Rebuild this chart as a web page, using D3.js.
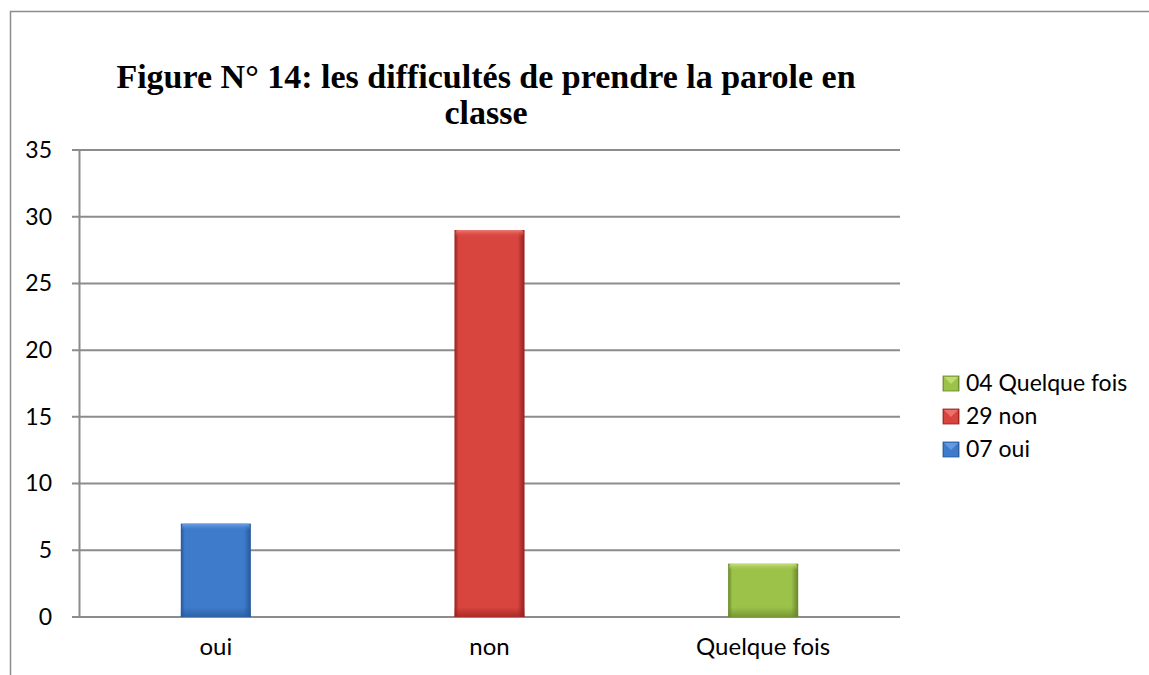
<!DOCTYPE html>
<html>
<head>
<meta charset="utf-8">
<script src="https://cdn.jsdelivr.net/npm/d3@7"></script>
<style>
  body { margin: 0; background: #fff; }
  text { font-family: Lato, "Open Sans", sans-serif; fill: #000; }
</style>
</head>
<body>
<svg id="chart" width="1149" height="675"></svg>
<script>
/* chart values */
var categories = ["oui", "non", "Quelque fois"];
var values = [7, 29, 4];
var legendLabels = ["07 oui", "29 non", "04 Quelque fois"];
var yTicks = [0, 5, 10, 15, 20, 25, 30, 35];
var titleLines = ["Figure N° 14: les difficultés de prendre la parole en", "classe"];

var colors = [
  {mid: "#3f7bcb", dark: "#285797", light: "#6fa3e6"},
  {mid: "#d8453f", dark: "#96201f", light: "#f07c76"},
  {mid: "#9dc24a", dark: "#66852a", light: "#c6e27f"}
];

var svg = d3.select("#chart");

/* outer frame (only left and top edges visible) */
svg.append("path")
    .attr("d", "M10.5,675 V11.5 H1149")
    .attr("fill", "none")
    .attr("stroke", "#8c8c8c")
    .attr("stroke-width", 1.5);

/* gradients for the bevelled bars */
var defs = svg.append("defs");
colors.forEach(function(c, i) {
  var g = defs.append("linearGradient").attr("id", "bar" + i)
      .attr("x1", 0).attr("x2", 1).attr("y1", 0).attr("y2", 0);
  g.append("stop").attr("offset", "0%").attr("stop-color", c.dark);
  g.append("stop").attr("offset", "6%").attr("stop-color", c.mid);
  g.append("stop").attr("offset", "90%").attr("stop-color", c.mid);
  g.append("stop").attr("offset", "100%").attr("stop-color", c.dark);
  var v = defs.append("linearGradient").attr("id", "top" + i)
      .attr("x1", 0).attr("x2", 0).attr("y1", 0).attr("y2", 1);
  v.append("stop").attr("offset", "0%").attr("stop-color", c.light);
  v.append("stop").attr("offset", "100%").attr("stop-color", c.mid).attr("stop-opacity", 0);
  var b = defs.append("linearGradient").attr("id", "bot" + i)
      .attr("x1", 0).attr("x2", 0).attr("y1", 0).attr("y2", 1);
  b.append("stop").attr("offset", "0%").attr("stop-color", c.dark).attr("stop-opacity", 0);
  b.append("stop").attr("offset", "100%").attr("stop-color", c.dark).attr("stop-opacity", 0.7);
});

/* title */
svg.append("g").selectAll("text")
    .data(titleLines)
  .enter().append("text")
    .attr("x", 486)
    .attr("y", function(d, i) { return 88 + i * 36; })
    .attr("text-anchor", "middle")
    .style("font-family", "'Liberation Serif', 'Times New Roman', serif")
    .style("font-weight", "bold")
    .style("font-size", "34px")
    .text(function(d) { return d; });

var margin = {top: 150, left: 79, right: 249, bottom: 58},
    width = 1149 - margin.left - margin.right,
    height = 675 - margin.top - margin.bottom;

var g = svg.append("g")
    .attr("transform", "translate(" + margin.left + "," + margin.top + ")");

var x = d3.scaleBand()
    .domain(categories)
    .range([0, width])
    .paddingInner(0.744)
    .paddingOuter(0.372);

var y = d3.scaleLinear()
    .domain([0, 35])
    .range([height, 0]);

/* gridlines */
g.append("g")
  .selectAll("line")
    .data(yTicks)
  .enter().append("line")
    .attr("x1", -7)
    .attr("x2", width)
    .attr("y1", function(d) { return y(d); })
    .attr("y2", function(d) { return y(d); })
    .attr("stroke", "#8c8c8c")
    .attr("stroke-width", 2);

/* y axis */
var yAxis = g.append("g")
    .call(d3.axisLeft(y).tickValues(yTicks).tickSize(0).tickPadding(27));
yAxis.select(".domain").attr("stroke", "#8c8c8c").attr("stroke-width", 2);
yAxis.selectAll("text").style("font-size", "23px").style("font-family", "Lato, 'Open Sans', sans-serif").attr("fill", "#000");

/* x labels */
var xAxis = g.append("g")
    .attr("transform", "translate(0," + height + ")")
    .call(d3.axisBottom(x).tickSize(0).tickPadding(21));
xAxis.select(".domain").remove();
xAxis.selectAll("text").style("font-size", "24px").style("font-family", "Lato, 'Open Sans', sans-serif").attr("fill", "#000");

/* bars */
var bars = g.selectAll(".bar")
    .data(values)
  .enter().append("g")
    .attr("class", "bar");

bars.append("rect")
    .attr("x", function(d, i) { return x(categories[i]); })
    .attr("y", function(d) { return y(d); })
    .attr("width", x.bandwidth())
    .attr("height", function(d) { return height - y(d); })
    .attr("fill", function(d, i) { return "url(#bar" + i + ")"; });

bars.append("rect")
    .attr("x", function(d, i) { return x(categories[i]) + 1; })
    .attr("y", function(d) { return y(d); })
    .attr("width", x.bandwidth() - 2)
    .attr("height", 7)
    .attr("rx", 3)
    .attr("fill", function(d, i) { return "url(#top" + i + ")"; });

bars.append("rect")
    .attr("x", function(d, i) { return x(categories[i]); })
    .attr("y", height - 10)
    .attr("width", x.bandwidth())
    .attr("height", 10)
    .attr("fill", function(d, i) { return "url(#bot" + i + ")"; });

/* legend */
var legendOrder = [2, 1, 0];
var legend = svg.append("g")
    .attr("transform", "translate(943,376)");

var items = legend.selectAll("g")
    .data(legendOrder)
  .enter().append("g")
    .attr("transform", function(d, k) { return "translate(0," + (k * 33) + ")"; });

items.append("rect")
    .attr("width", 16)
    .attr("height", 15)
    .attr("fill", function(d) { return "url(#bar" + d + ")"; })
    .attr("stroke", function(d) { return colors[d].dark; })
    .attr("stroke-width", 0.8);

items.append("path")
    .attr("d", "M1,1 L8,8 L15,1 Z")
    .attr("fill", function(d) { return colors[d].light; })
    .attr("opacity", 0.8);

items.append("text")
    .attr("x", 23)
    .attr("y", 15)
    .style("font-size", "23px")
    .text(function(d) { return legendLabels[d]; });
</script>
</body>
</html>
